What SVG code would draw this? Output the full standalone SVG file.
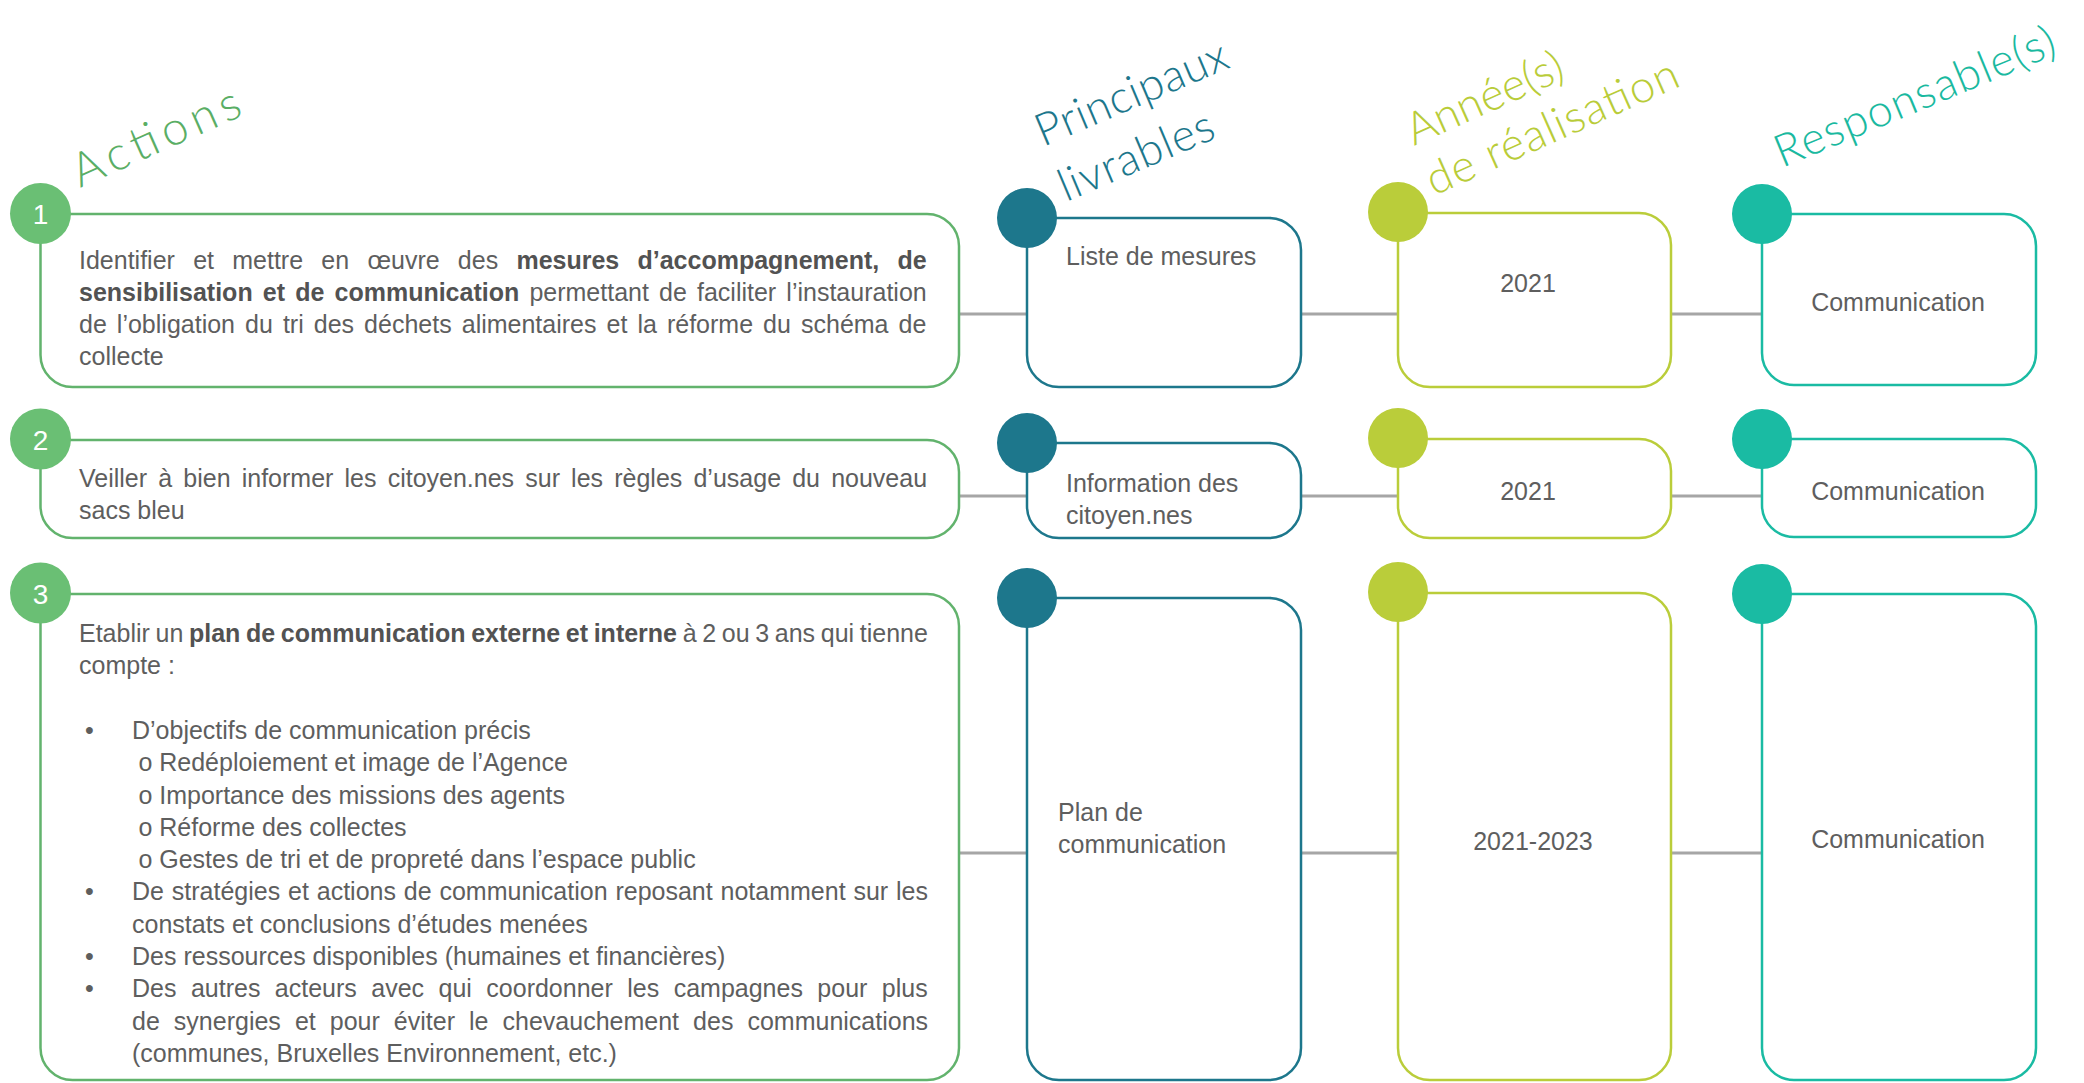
<svg xmlns="http://www.w3.org/2000/svg" width="2084" height="1083" viewBox="0 0 2084 1083">
<style>
.t{font-family:"Liberation Sans",Arial,sans-serif;font-size:25px;fill:#5e5e5e}
.b{font-weight:bold;fill:#525252}
.mid{text-anchor:middle}
.hd{font-family:Lato,"Open Sans",sans-serif;font-weight:300}
.num{font-family:"Liberation Sans",Arial,sans-serif;font-size:28px;fill:#fff;text-anchor:middle}
.box{fill:#fff;stroke-width:2.5}
.ga{stroke:#62b36d}.gaf{fill:#6abf74}
.lv{stroke:#1d778c}.lvf{fill:#1d778c}
.yr{stroke:#bacd3a}.yrf{fill:#bacd3a}
.rs{stroke:#1abba3}.rsf{fill:#1abba3}
.conn line{stroke:#a6a6a6;stroke-width:3}
</style>

<!-- headers -->
<g id="headers">
<text class="hd" fill="#5aae65" font-size="47" transform="translate(80,188) rotate(-24)" textLength="180" lengthAdjust="spacing">Actions</text>
<text class="hd" fill="#1d778c" font-size="45" transform="translate(1043,147) rotate(-23)" textLength="205" lengthAdjust="spacing">Principaux</text>
<text class="hd" fill="#1d778c" font-size="45" transform="translate(1066,202) rotate(-23)" textLength="165" lengthAdjust="spacing">livrables</text>
<text class="hd" fill="#b9cc39" font-size="45" transform="translate(1414,146) rotate(-24)" textLength="168" lengthAdjust="spacing">Année(s)</text>
<text class="hd" fill="#b9cc39" font-size="45" transform="translate(1434,196) rotate(-24)" textLength="272" lengthAdjust="spacing">de réalisation</text>
<text class="hd" fill="#1ab9a0" font-size="45" transform="translate(1782,168) rotate(-22.5)" textLength="300" lengthAdjust="spacing">Responsable(s)</text>
</g>

<!-- connectors -->
<g id="connectors" class="conn">
<line x1="959" y1="314" x2="1027" y2="314"/>
<line x1="1301" y1="314" x2="1398" y2="314"/>
<line x1="1671" y1="314" x2="1762" y2="314"/>
<line x1="959" y1="496" x2="1027" y2="496"/>
<line x1="1301" y1="496" x2="1398" y2="496"/>
<line x1="1671" y1="496" x2="1762" y2="496"/>
<line x1="959" y1="853" x2="1027" y2="853"/>
<line x1="1301" y1="853" x2="1398" y2="853"/>
<line x1="1671" y1="853" x2="1762" y2="853"/>
</g>

<!-- Row 1 -->
<g id="action1">
<path class="box ga" d="M40.5,214 H927 A32,32 0 0 1 959,246 V355 A32,32 0 0 1 927,387 H72.5 A32,32 0 0 1 40.5,355 Z"/>
<circle class="gaf" cx="40.5" cy="213.5" r="30.5"/>
<text class="num" x="40.5" y="224">1</text>
<text class="t" x="79" y="269" word-spacing="11.3">Identifier et mettre en œuvre des <tspan class="b">mesures d’accompagnement, de</tspan></text>
<text class="t" x="79" y="301" word-spacing="3.2"><tspan class="b">sensibilisation et de communication</tspan> permettant de faciliter l’instauration</text>
<text class="t" x="79" y="333" word-spacing="3.1">de l’obligation du tri des déchets alimentaires et la réforme du schéma de</text>
<text class="t" x="79" y="365">collecte</text>
</g>
<g id="livrable1">
<path class="box lv" d="M1027,218 H1269 A32,32 0 0 1 1301,250 V355 A32,32 0 0 1 1269,387 H1059 A32,32 0 0 1 1027,355 Z"/>
<circle class="lvf" cx="1027" cy="218" r="30"/>
<text class="t" x="1066" y="265">Liste de mesures</text>
</g>
<g id="annee1">
<path class="box yr" d="M1398,213 H1639 A32,32 0 0 1 1671,245 V355 A32,32 0 0 1 1639,387 H1430 A32,32 0 0 1 1398,355 Z"/>
<circle class="yrf" cx="1398" cy="212" r="30"/>
<text class="t mid" x="1528" y="292">2021</text>
</g>
<g id="resp1">
<path class="box rs" d="M1762,214 H2004 A32,32 0 0 1 2036,246 V353 A32,32 0 0 1 2004,385 H1794 A32,32 0 0 1 1762,353 Z"/>
<circle class="rsf" cx="1762" cy="214" r="30"/>
<text class="t mid" x="1898" y="311">Communication</text>
</g>

<!-- Row 2 -->
<g id="action2">
<path class="box ga" d="M40.5,440 H927 A32,32 0 0 1 959,472 V506 A32,32 0 0 1 927,538 H72.5 A32,32 0 0 1 40.5,506 Z"/>
<circle class="gaf" cx="40.5" cy="439" r="30.5"/>
<text class="num" x="40.5" y="449.5">2</text>
<text class="t" x="79" y="487" word-spacing="4.2">Veiller à bien informer les citoyen.nes sur les règles d’usage du nouveau</text>
<text class="t" x="79" y="519">sacs bleu</text>
</g>
<g id="livrable2">
<path class="box lv" d="M1027,443 H1269 A32,32 0 0 1 1301,475 V506 A32,32 0 0 1 1269,538 H1059 A32,32 0 0 1 1027,506 Z"/>
<circle class="lvf" cx="1027" cy="443" r="30"/>
<text class="t" x="1066" y="492">Information des</text>
<text class="t" x="1066" y="524">citoyen.nes</text>
</g>
<g id="annee2">
<path class="box yr" d="M1398,439 H1639 A32,32 0 0 1 1671,471 V506 A32,32 0 0 1 1639,538 H1430 A32,32 0 0 1 1398,506 Z"/>
<circle class="yrf" cx="1398" cy="438" r="30"/>
<text class="t mid" x="1528" y="500">2021</text>
</g>
<g id="resp2">
<path class="box rs" d="M1762,439 H2004 A32,32 0 0 1 2036,471 V505 A32,32 0 0 1 2004,537 H1794 A32,32 0 0 1 1762,505 Z"/>
<circle class="rsf" cx="1762" cy="439" r="30"/>
<text class="t mid" x="1898" y="500">Communication</text>
</g>

<!-- Row 3 -->
<g id="action3">
<path class="box ga" d="M40.5,594 H927 A32,32 0 0 1 959,626 V1048 A32,32 0 0 1 927,1080 H72.5 A32,32 0 0 1 40.5,1048 Z"/>
<circle class="gaf" cx="40.5" cy="593" r="30.5"/>
<text class="num" x="40.5" y="603.5">3</text>
<text class="t" x="79" y="642" word-spacing="-1.3">Etablir un <tspan class="b">plan de communication externe et interne</tspan> à 2 ou 3 ans qui tienne</text>
<text class="t" x="79" y="674.3">compte :</text>
<text class="t" x="85" y="738.9">•</text>
<text class="t" x="132" y="738.9">D’objectifs de communication précis</text>
<text class="t" x="138.4" y="771.2">o Redéploiement et image de l’Agence</text>
<text class="t" x="138.4" y="803.5">o Importance des missions des agents</text>
<text class="t" x="138.4" y="835.8">o Réforme des collectes</text>
<text class="t" x="138.4" y="868.1">o Gestes de tri et de propreté dans l’espace public</text>
<text class="t" x="85" y="900.4">•</text>
<text class="t" x="132" y="900.4" word-spacing="0.9">De stratégies et actions de communication reposant notamment sur les</text>
<text class="t" x="132" y="932.7">constats et conclusions d’études menées</text>
<text class="t" x="85" y="965">•</text>
<text class="t" x="132" y="965">Des ressources disponibles (humaines et financières)</text>
<text class="t" x="85" y="997.3">•</text>
<text class="t" x="132" y="997.3" word-spacing="7.5">Des autres acteurs avec qui coordonner les campagnes pour plus</text>
<text class="t" x="132" y="1029.6" word-spacing="7.1">de synergies et pour éviter le chevauchement des communications</text>
<text class="t" x="132" y="1061.9">(communes, Bruxelles Environnement, etc.)</text>
</g>
<g id="livrable3">
<path class="box lv" d="M1027,598 H1269 A32,32 0 0 1 1301,630 V1048 A32,32 0 0 1 1269,1080 H1059 A32,32 0 0 1 1027,1048 Z"/>
<circle class="lvf" cx="1027" cy="598" r="30"/>
<text class="t" x="1058" y="821">Plan de</text>
<text class="t" x="1058" y="853">communication</text>
</g>
<g id="annee3">
<path class="box yr" d="M1398,593 H1639 A32,32 0 0 1 1671,625 V1048 A32,32 0 0 1 1639,1080 H1430 A32,32 0 0 1 1398,1048 Z"/>
<circle class="yrf" cx="1398" cy="592" r="30"/>
<text class="t mid" x="1533" y="850">2021-2023</text>
</g>
<g id="resp3">
<path class="box rs" d="M1762,594 H2004 A32,32 0 0 1 2036,626 V1048 A32,32 0 0 1 2004,1080 H1794 A32,32 0 0 1 1762,1048 Z"/>
<circle class="rsf" cx="1762" cy="594" r="30"/>
<text class="t mid" x="1898" y="848">Communication</text>
</g>
</svg>
